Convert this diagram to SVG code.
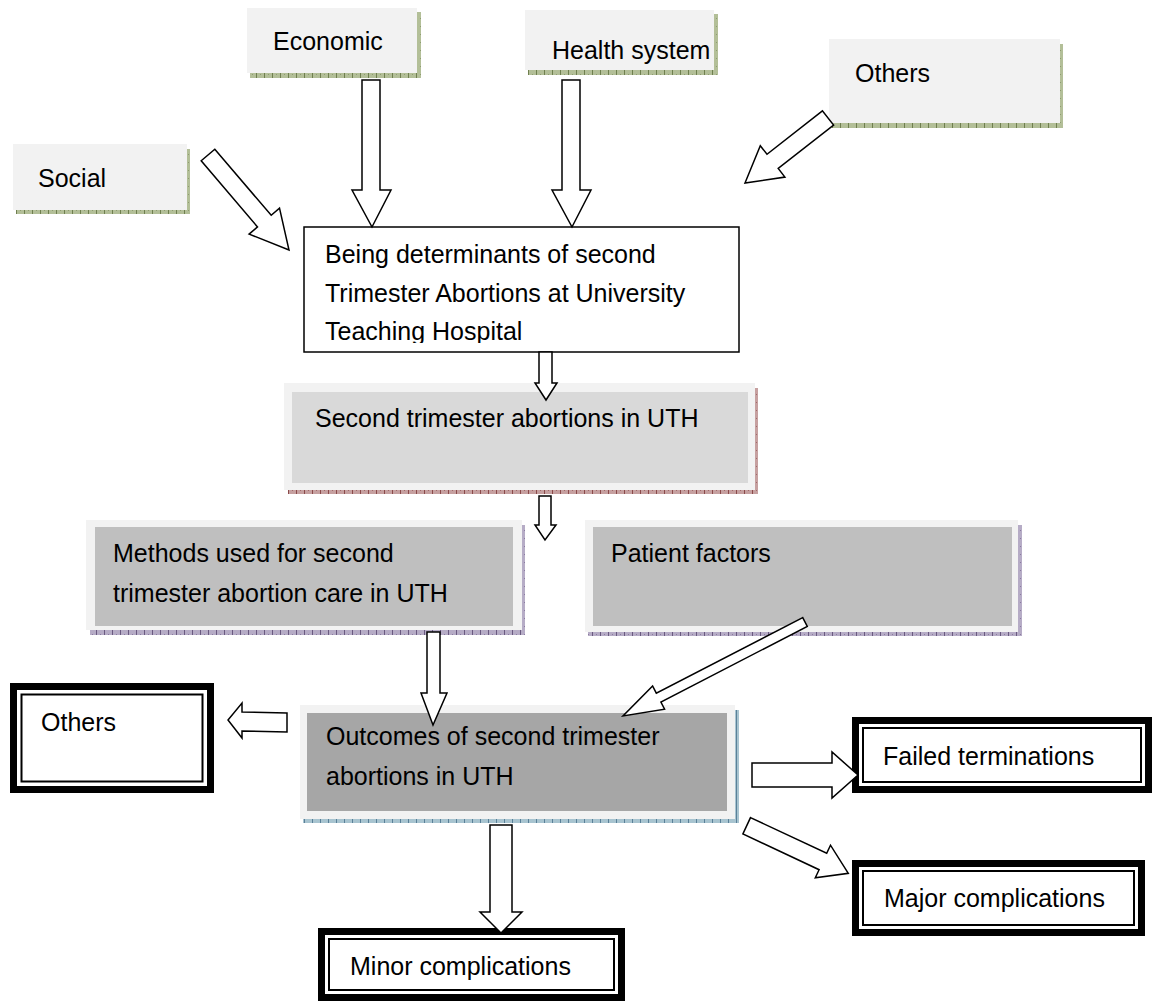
<svg xmlns="http://www.w3.org/2000/svg" width="1155" height="1001" viewBox="0 0 1155 1001">
<style>
  text { font-family: "Liberation Sans", Arial, sans-serif; font-size: 25px; fill: #000; }
  .light { fill: #f2f2f2; }
  .g1 { fill: #d9d9d9; }
  .g2 { fill: #bfbfbf; }
  .g3 { fill: #a6a6a6; }
  .main { fill: #ffffff; stroke: #000; stroke-width: 1.5; }
  .frameOuter { fill: #000; }
  .frameInner { fill: #fff; }
  .frameLine { fill: none; stroke: #000; stroke-width: 2; }
  .arrow { fill: #fff; stroke: #000; stroke-width: 1.5; stroke-linejoin: miter; }
</style>
<defs>
  <pattern id="pGreen" width="8" height="8" patternUnits="userSpaceOnUse">
    <rect width="8" height="8" fill="#b3bf98"/>
    <rect x="0" y="0" width="1" height="8" fill="#6f7f4f"/>
    <rect x="4" y="2" width="1" height="1" fill="#8e9c70"/>
  </pattern>
  <pattern id="pMaroon" width="8" height="8" patternUnits="userSpaceOnUse">
    <rect width="8" height="8" fill="#c6a0a0"/>
    <rect x="0" y="0" width="1" height="8" fill="#8a4a4a"/>
    <rect x="4" y="2" width="1" height="1" fill="#a06a6a"/>
  </pattern>
  <pattern id="pPurple" width="8" height="8" patternUnits="userSpaceOnUse">
    <rect width="8" height="8" fill="#b6acc6"/>
    <rect x="0" y="0" width="1" height="8" fill="#6a5a80"/>
    <rect x="4" y="2" width="1" height="1" fill="#8a7aa0"/>
  </pattern>
  <pattern id="pBlue" width="8" height="8" patternUnits="userSpaceOnUse">
    <rect width="8" height="8" fill="#a8c4d0"/>
    <rect x="0" y="0" width="1" height="8" fill="#5a8098"/>
    <rect x="4" y="2" width="1" height="1" fill="#7a9cb0"/>
  </pattern>
  <clipPath id="clipMain">
    <rect x="304" y="227" width="435" height="116"/>
  </clipPath>
</defs>

<g id="node-economic">
  <rect x="250" y="73" width="171" height="5" fill="url(#pGreen)"/>
  <rect x="417" y="12" width="4" height="66" fill="url(#pGreen)"/>
  <rect class="light" x="247" y="8" width="170" height="65"/>
  <text x="273" y="50">Economic</text>
</g>

<g id="node-health">
  <rect x="528" y="70" width="190" height="5" fill="url(#pGreen)"/>
  <rect x="714" y="14" width="4" height="61" fill="url(#pGreen)"/>
  <rect class="light" x="525" y="10" width="189" height="60"/>
  <text x="552" y="59">Health system</text>
</g>

<g id="node-others-top">
  <rect x="832" y="123" width="231" height="5" fill="url(#pGreen)"/>
  <rect x="1060" y="44" width="3" height="84" fill="url(#pGreen)"/>
  <rect class="light" x="829" y="39" width="231" height="84"/>
  <text x="855" y="82">Others</text>
</g>

<g id="node-social">
  <rect x="16" y="210" width="174" height="4" fill="url(#pGreen)"/>
  <rect x="187" y="149" width="3" height="65" fill="url(#pGreen)"/>
  <rect class="light" x="13" y="144" width="174" height="66"/>
  <text x="38" y="187">Social</text>
</g>

<g id="node-determinants">
  <rect class="main" x="304" y="227" width="435" height="125"/>
  <g clip-path="url(#clipMain)">
    <text x="325" y="263">Being determinants of second</text>
    <text x="325" y="302">Trimester Abortions at University</text>
    <text x="325" y="340">Teaching Hospital</text>
  </g>
</g>

<g id="node-second">
  <rect x="288" y="490" width="470" height="4" fill="url(#pMaroon)"/>
  <rect x="755" y="388" width="3" height="106" fill="url(#pMaroon)"/>
  <rect class="light" x="284" y="383" width="471" height="107"/>
  <rect class="g1" x="292" y="392" width="456" height="91"/>
  <text x="315" y="427">Second trimester abortions in UTH</text>
</g>

<g id="node-methods">
  <rect x="90" y="630" width="435" height="5" fill="url(#pPurple)"/>
  <rect x="522" y="525" width="3" height="110" fill="url(#pPurple)"/>
  <rect class="light" x="86" y="520" width="436" height="110"/>
  <rect class="g2" x="95" y="527" width="418" height="99"/>
  <text x="113" y="562">Methods used for second</text>
  <text x="113" y="602">trimester abortion care in UTH</text>
</g>

<g id="node-patient">
  <rect x="588" y="632" width="434" height="4" fill="url(#pPurple)"/>
  <rect x="1018" y="525" width="4" height="111" fill="url(#pPurple)"/>
  <rect class="light" x="585" y="520" width="433" height="112"/>
  <rect class="g2" x="593" y="527" width="419" height="99"/>
  <text x="611" y="562">Patient factors</text>
</g>

<g id="node-outcomes">
  <rect x="303" y="819" width="436" height="4" fill="url(#pBlue)"/>
  <rect x="735" y="710" width="4" height="113" fill="url(#pBlue)"/>
  <rect class="light" x="300" y="705" width="435" height="114"/>
  <rect class="g3" x="307" y="713" width="420" height="98"/>
  <text x="326" y="745">Outcomes of second trimester</text>
  <text x="326" y="785">abortions in UTH</text>
</g>

<g id="node-others-left">
  <rect class="frameOuter" x="10" y="683" width="204" height="110"/>
  <rect class="frameInner" x="17" y="690" width="190" height="96"/>
  <rect class="frameLine" x="21.5" y="694.5" width="181" height="87"/>
  <text x="41" y="731">Others</text>
</g>

<g id="node-failed">
  <rect class="frameOuter" x="852" y="717" width="300" height="76"/>
  <rect class="frameInner" x="859" y="724" width="286" height="62"/>
  <rect class="frameLine" x="863" y="728" width="278" height="54"/>
  <text x="883" y="765">Failed terminations</text>
</g>

<g id="node-major">
  <rect class="frameOuter" x="852" y="860" width="293" height="76"/>
  <rect class="frameInner" x="859" y="867" width="279" height="62"/>
  <rect class="frameLine" x="863" y="871" width="271" height="54"/>
  <text x="884" y="907">Major complications</text>
</g>

<g id="node-minor">
  <rect class="frameOuter" x="318" y="928" width="307" height="73"/>
  <rect class="frameInner" x="325" y="935" width="293" height="59"/>
  <rect class="frameLine" x="329" y="939" width="285" height="51"/>
  <text x="350" y="975">Minor complications</text>
</g>

<g id="connectors">
  <polygon class="arrow" points="362,80 380,80 380,190 391,190 372,227 352,190 362,190"/>
  <polygon class="arrow" points="562,80 580,80 580,190 591,190 572,227 552,190 562,190"/>
  <polygon class="arrow" points="214.8,149.2 271.2,215.3 279.5,208.1 289,250 249.1,234.1 257.5,226.9 201.2,160.8"/>
  <polygon class="arrow" points="822.4,110.9 767,154.3 760.3,145.7 745,183 784.9,177.1 778.2,168.5 833.6,125.1"/>
  <polygon class="arrow" points="539,352 552,352 552,383 557,383 546,400 535,383 539,383"/>
  <polygon class="arrow" points="539,496 551,496 551,525 556,525 545,540 535,525 539,525"/>
  <polygon class="arrow" points="427,632 440,632 440,693 447,693 433,725 421,693 427,693"/>
  <polygon class="arrow" points="802.7,617.6 656.3,693.2 652.6,686 623,716 664.6,709.2 660.9,702 807.3,626.4"/>
  <polygon class="arrow" points="287,713 242,712 242,703 228,720 242,738 242,731 287,732"/>
  <polygon class="arrow" points="752,763 832,763 832,752 858,775 832,798 832,787 752,787"/>
  <polygon class="arrow" points="750.5,817.6 826.7,853.3 830.5,845.2 848.3,873.3 815.3,877.8 819.1,869.7 742.9,834"/>
  <polygon class="arrow" points="490,825 512,825 512,912 522,912 501,933 480,912 490,912"/>
</g>
</svg>
